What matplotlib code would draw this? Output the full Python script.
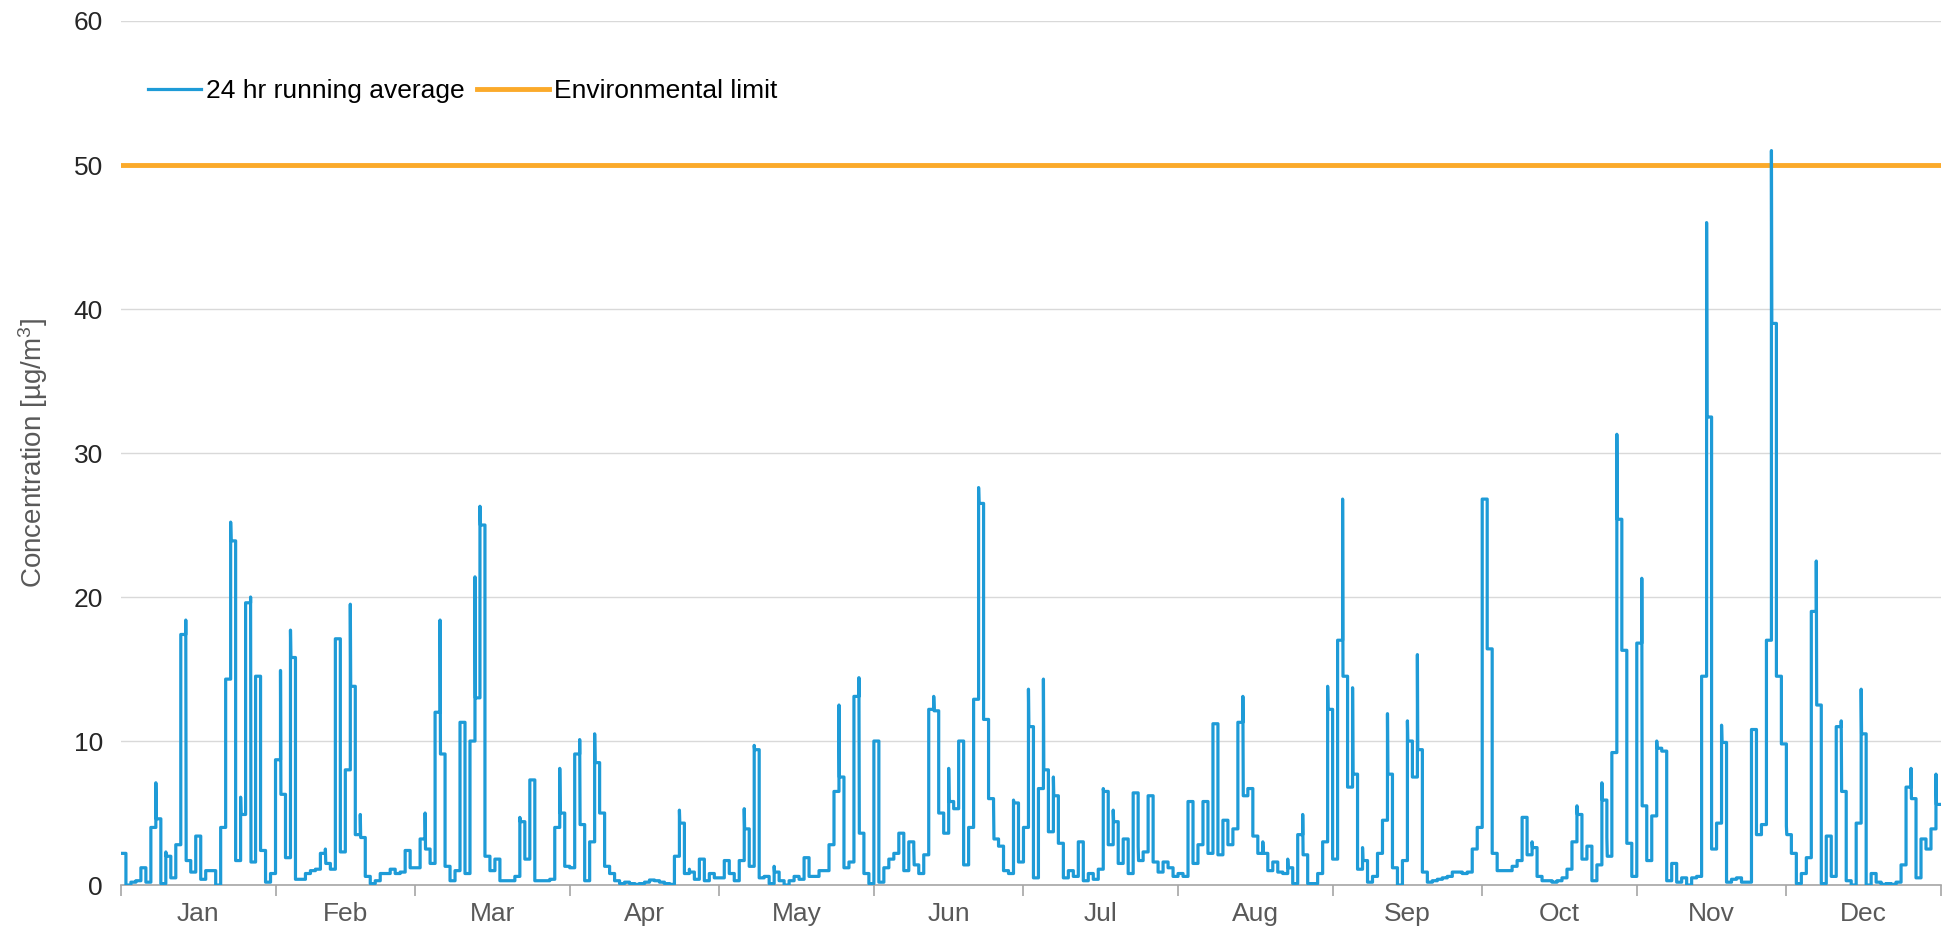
import matplotlib
matplotlib.use("Agg")
import matplotlib.pyplot as plt
import numpy as np

plt.rcParams['font.family'] = ['Liberation Sans', 'DejaVu Sans']
plt.rcParams['mathtext.fontset'] = 'custom'
plt.rcParams['mathtext.rm'] = 'Liberation Sans'
plt.rcParams['mathtext.default'] = 'regular'

# daily 24 hr running average, one entry per day
# (plateau, peak) where the line jumps to a short peak at the start of the day
jan = [2.2, 0.0, 0.2, 0.3, 1.2, 0.2, 4.0, (4.6, 7.1), 0.1, (2.0, 2.3), 0.5, 2.8, 17.4, (1.7, 18.4),
       0.9, 3.4, 0.4, 1.0, 1.0, 0.0, 4.0, 14.3, (23.9, 25.2), 1.7, (4.9, 6.1), 19.6, (1.6, 20.0),
       14.5, 2.4, 0.2, 0.8]
feb = [8.7, (6.3, 14.9), 1.9, (15.8, 17.7), 0.4, 0.4, 0.8, 1.0, 1.1, 2.2, (1.5, 2.5), 1.1, 17.1,
       2.3, 8.0, (13.8, 19.5), 3.5, (3.3, 4.9), 0.6, 0.1, 0.3, 0.8, 0.8, 1.1, 0.8, 0.9, 2.4, 1.2]
mar = [1.2, 3.2, (2.5, 5.0), 1.5, 12.0, (9.1, 18.4), 1.3, 0.3, 1.0, 11.3, 0.8, 10.0, (13.0, 21.4),
       (25.0, 26.3), 2.0, 1.0, 1.8, 0.3, 0.3, 0.3, 0.6, (4.4, 4.7), 1.8, 7.3, 0.3, 0.3, 0.3, 0.4,
       4.0, (5.0, 8.1), 1.3]
apr = [1.2, 9.1, (4.2, 10.1), 0.3, 3.0, (8.5, 10.5), 5.0, 1.3, 0.8, 0.3, 0.1, 0.2, 0.1, 0.05, 0.1,
       0.2, 0.35, 0.3, 0.2, 0.1, 0.05, 2.0, (4.3, 5.2), 0.8, (0.9, 1.1), 0.4, 1.8, 0.3, 0.8, 0.5]
may = [0.5, 1.7, 0.8, 0.3, 1.7, (3.9, 5.3), 1.3, (9.4, 9.7), 0.5, 0.6, 0.1, (0.9, 1.3), 0.3, 0.0,
       0.3, 0.6, 0.4, 1.9, 0.6, 0.6, 1.0, 1.0, 2.8, 6.5, (7.5, 12.5), 1.2, 1.6, 13.1, (3.6, 14.4),
       0.8, 0.1]
jun = [10.0, 0.2, 1.2, 1.8, 2.2, 3.6, 1.0, 3.0, (1.4, 2.6), 0.8, 2.1, 12.2, (12.1, 13.1), 5.0, 3.6,
       (5.8, 8.1), 5.3, 10.0, 1.4, 4.0, 12.9, (26.5, 27.6), 11.5, 6.0, (3.2, 5.6), 2.7, 1.0, 0.8,
       (5.7, 5.9), 1.6]
jul = [4.0, (11.0, 13.6), 0.5, 6.7, (8.0, 14.3), 3.7, (6.2, 7.5), 2.9, 0.5, 1.0, 0.6, 3.0, 0.3, 0.8,
       0.4, 1.1, (6.5, 6.7), 2.8, (4.4, 5.2), 1.5, 3.2, 0.8, 6.4, (1.7, 2.7), 2.3, 6.2, 1.6, 0.9,
       1.6, 1.2, 0.6]
aug = [0.8, 0.6, 5.8, 1.5, 2.8, 5.8, 2.2, 11.2, 2.1, 4.5, 2.8, 3.9, 11.3, (6.2, 13.1), 6.7, 3.4,
       2.2, (2.2, 3.0), 1.0, 1.6, 0.9, 0.8, (1.2, 1.8), 0.1, 3.5, (2.1, 4.9), 0.1, 0.1, 0.8, 3.0,
       (12.2, 13.8)]
sep = [1.8, 17.0, (14.5, 26.8), 6.8, (7.7, 13.7), 1.1, (1.7, 2.6), 0.2, 0.6, 2.2, 4.5, (7.7, 11.9),
       1.2, 0.0, 1.7, (10.0, 11.4), 7.5, (9.4, 16.0), 0.9, 0.2, 0.3, 0.4, 0.5, 0.6, 0.9, 0.9, 0.8,
       0.9, 2.5, 4.0]
oct = [26.8, 16.4, 2.2, 1.0, 1.0, 1.0, 1.3, 1.7, 4.7, 2.1, (2.6, 3.0), 0.6, 0.3, 0.3, 0.2, 0.3, 0.5,
       1.1, 3.0, (4.9, 5.5), 1.8, 2.7, 0.3, 1.4, (5.9, 7.1), (2.0, 3.3), 9.2, (25.4, 31.3), 16.3,
       2.9, 0.6]
nov = [16.8, (5.5, 21.3), 1.7, 4.8, (9.5, 10.0), 9.3, 0.3, 1.5, 0.2, 0.5, 0.0, 0.5, 0.6, 14.5,
       (32.5, 46.0), 2.5, 4.3, (9.9, 11.1), 0.2, 0.4, 0.5, 0.2, 0.2, 10.8, 3.5, 4.2, 17.0,
       (39.0, 51.0), 14.5, 9.8]
dec = [(3.5, 4.1), 2.2, 0.1, 0.8, 1.9, 19.0, (12.5, 22.5), 0.1, 3.4, 0.6, 11.0, (6.5, 11.4), 0.3,
       0.0, 4.3, (10.5, 13.6), 0.0, 0.8, 0.2, 0.05, 0.1, 0.05, 0.2, 1.4, 6.8, (6.0, 8.1), 0.5, 3.2,
       2.5, 3.9, (5.6, 7.7)]

months = ['Jan', 'Feb', 'Mar', 'Apr', 'May', 'Jun', 'Jul', 'Aug', 'Sep', 'Oct', 'Nov', 'Dec']
limit = 50

days = jan + feb + mar + apr + may + jun + jul + aug + sep + oct + nov + dec
month_len = [len(m) for m in [jan, feb, mar, apr, may, jun, jul, aug, sep, oct, nov, dec]]
bounds = np.concatenate([[0], np.cumsum(month_len)])
centers = (bounds[:-1] + bounds[1:]) / 2

# build the stepped line
xs, ys = [], []
for d, v in enumerate(days):
    if isinstance(v, tuple):
        plateau, peak = v
        xs += [d, d + 0.08]
        ys += [peak, plateau]
    else:
        plateau = v
        xs.append(d)
        ys.append(plateau)
    xs.append(d + 1)
    ys.append(plateau)

fig = plt.figure(figsize=(19.57, 9.33), dpi=100)
ax = fig.add_axes([0.0618, 0.0514, 0.930, 0.9261])

ax.plot(xs, ys, color='#1E9BD7', lw=2.3, label='24 hr running average', zorder=3)
ax.axhline(limit, color='#FBAA2A', lw=3.5, label='Environmental limit', zorder=2)

ax.set_xlim(0, bounds[-1])
ax.set_ylim(0, 60)
ax.set_yticks(range(0, 61, 10))
ax.yaxis.grid(True, color='#D9D9D9', lw=1)
ax.set_axisbelow(True)

ax.set_xticks(bounds)
ax.set_xticklabels([])
ax.set_xticks(centers, minor=True)
ax.set_xticklabels(months, minor=True)
ax.tick_params(axis='x', which='major', length=8, color='#A6A6A6', width=1.2)
ax.tick_params(axis='x', which='minor', length=0, pad=12, labelsize=19, labelcolor='#595959')
ax.tick_params(axis='y', length=0, pad=13, labelsize=19, labelcolor='#262626')

for s in ['top', 'right', 'left']:
    ax.spines[s].set_visible(False)
ax.spines['bottom'].set_color('#A6A6A6')
ax.spines['bottom'].set_linewidth(1.2)

ax.set_ylabel('Concentration [µg/m$^{3}$]', fontsize=20, color='#595959', labelpad=17)

leg = ax.legend(loc='center left', bbox_to_anchor=(0.009, 0.919), ncol=2, frameon=False,
                fontsize=19, handlelength=2.0, handletextpad=0.2, columnspacing=1.2,
                borderaxespad=0)
# the limit line's legend key is drawn a bit longer than the other
key = leg.get_lines()[1]
kx = np.asarray(key.get_xdata(), dtype=float)
key.set_xdata(np.linspace(kx[0] - 14, kx[-1], len(kx)))

fig.savefig('out.png', dpi=100)
